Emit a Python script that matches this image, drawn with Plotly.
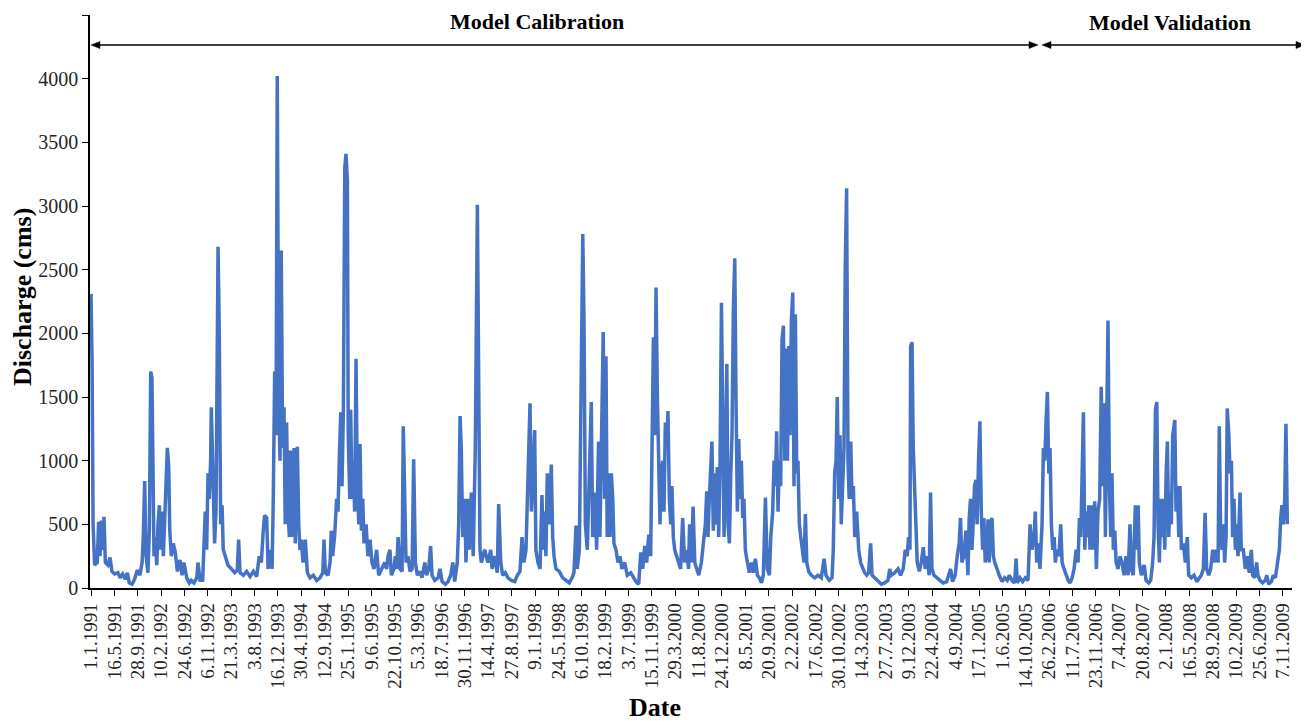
import pandas as pd
import plotly.graph_objects as go

START = pd.Timestamp("1991-01-01")

# ---- data: day offset from 1.1.1991 and discharge (cms) ----
days_1991 = [0, 6, 12, 21, 36, 44, 52, 60, 68, 75, 83, 98, 110, 121, 137, 156, 168, 183, 198, 210, 221, 237, 252, 267, 283, 295, 302, 310, 318, 329, 337, 345, 352, 358]
q_1991 = [2310, 1800, 500, 180, 200, 520, 250, 530, 300, 560, 200, 180, 240, 130, 110, 120, 80, 110, 70, 120, 40, 30, 70, 140, 100, 200, 400, 840, 250, 120, 450, 1700, 1650, 500]

days_1992 = [364, 371, 380, 387, 395, 403, 410, 418, 426, 433, 441, 449, 455, 464, 475, 487, 499, 514, 526, 537, 553, 568, 579, 595, 611, 618, 630, 645, 653, 660, 668, 676, 683, 691, 695, 707, 714, 722]
q_1992 = [250, 400, 180, 500, 650, 300, 600, 250, 550, 900, 1100, 950, 450, 250, 350, 280, 130, 220, 100, 200, 80, 40, 60, 40, 80, 200, 60, 60, 450, 600, 300, 900, 700, 1000, 1420, 700, 350, 600]

days_1993 = [734, 741, 749, 757, 764, 776, 791, 811, 830, 845, 853, 861, 880, 899, 919, 938, 957, 972, 984, 995, 1003, 1015, 1023, 1034, 1046, 1053, 1061, 1069, 1076, 1084, 1092]
q_1993 = [2680, 2000, 500, 650, 300, 250, 180, 150, 120, 140, 380, 120, 100, 130, 90, 130, 90, 250, 200, 450, 570, 550, 150, 300, 150, 700, 1700, 1200, 4020, 1500, 1000]

days_1994 = [1099, 1107, 1115, 1122, 1130, 1138, 1146, 1153, 1161, 1173, 1180, 1192, 1200, 1207, 1215, 1225, 1238, 1250, 1265, 1284, 1304, 1323, 1339, 1346, 1354, 1369, 1381, 1388, 1396, 1408, 1419, 1427, 1434, 1443, 1450, 1458]
q_1994 = [2650, 1100, 1420, 500, 1300, 600, 400, 1080, 400, 1100, 350, 1110, 500, 300, 380, 200, 380, 120, 80, 100, 60, 80, 120, 380, 120, 100, 200, 450, 250, 420, 700, 600, 1000, 1380, 800, 1400]

days_1995 = [1466, 1473, 1481, 1486, 1495, 1500, 1508, 1515, 1523, 1531, 1538, 1547, 1554, 1562, 1570, 1577, 1589, 1600, 1612, 1623, 1635, 1650, 1662, 1681, 1697, 1708, 1716, 1727, 1735, 1750, 1758, 1766, 1774, 1785, 1797, 1804, 1812, 1820]
q_1995 = [3300, 3410, 3200, 1200, 700, 1400, 700, 1000, 600, 1800, 800, 500, 1130, 450, 700, 350, 500, 250, 380, 200, 150, 300, 100, 150, 200, 150, 250, 300, 100, 150, 250, 150, 400, 150, 130, 1270, 600, 200]

days_1996 = [1831, 1843, 1855, 1864, 1874, 1885, 1901, 1912, 1928, 1939, 1951, 1962, 1970, 1986, 2005, 2016, 2028, 2047, 2062, 2078, 2090, 2101, 2116, 2124, 2132, 2139, 2147, 2159, 2166, 2178, 2185]
q_1996 = [250, 130, 150, 1010, 200, 100, 130, 80, 200, 100, 150, 330, 100, 60, 80, 150, 50, 30, 50, 100, 200, 50, 200, 500, 1350, 1100, 400, 700, 200, 700, 300]

days_1997 = [2197, 2208, 2220, 2232, 2240, 2247, 2255, 2274, 2293, 2309, 2317, 2332, 2347, 2355, 2367, 2378, 2393, 2409, 2428, 2448, 2463, 2478, 2490, 2501, 2513, 2521, 2529, 2536, 2544, 2555]
q_1997 = [750, 250, 1100, 3010, 1000, 300, 200, 300, 200, 300, 150, 250, 120, 660, 200, 100, 120, 80, 60, 50, 100, 130, 400, 200, 300, 700, 1330, 1450, 600, 1000]

days_1998 = [2563, 2570, 2582, 2594, 2605, 2613, 2621, 2628, 2636, 2648, 2659, 2667, 2675, 2686, 2705, 2725, 2744, 2763, 2779, 2790, 2802, 2809, 2821, 2833, 2841, 2848, 2856, 2867, 2879, 2890, 2898, 2910, 2921]
q_1998 = [1240, 300, 200, 150, 730, 300, 600, 250, 900, 500, 970, 400, 250, 150, 130, 80, 60, 40, 80, 120, 490, 150, 300, 2000, 2780, 2100, 500, 300, 900, 1460, 400, 750, 300]

days_1999 = [2932, 2940, 2952, 2959, 2967, 2975, 2982, 2991, 2998, 3006, 3014, 3021, 3033, 3044, 3056, 3067, 3083, 3098, 3118, 3133, 3148, 3164, 3176, 3187, 3199, 3210, 3222, 3233, 3241, 3249, 3257, 3264, 3272, 3280]
q_1999 = [1150, 400, 1500, 2010, 700, 1820, 400, 900, 400, 900, 700, 350, 300, 200, 250, 150, 200, 100, 120, 80, 50, 30, 280, 150, 330, 200, 420, 250, 1000, 1970, 1200, 2360, 1500, 700]

days_2000 = [3287, 3295, 3303, 3310, 3318, 3326, 3333, 3341, 3349, 3356, 3364, 3372, 3383, 3395, 3406, 3418, 3429, 3441, 3452, 3458, 3468, 3478, 3488, 3499, 3511, 3526, 3537, 3549, 3557, 3564, 3572, 3580, 3587, 3595, 3603, 3611, 3618, 3626, 3634, 3642, 3650]
q_2000 = [500, 900, 1000, 600, 1300, 1100, 1390, 700, 500, 800, 400, 300, 250, 200, 150, 550, 200, 300, 150, 500, 200, 640, 200, 150, 100, 200, 320, 500, 760, 400, 700, 1000, 1150, 450, 900, 500, 950, 400, 1000, 2240, 1200]

days_2001 = [3657, 3665, 3673, 3680, 3688, 3696, 3703, 3711, 3719, 3726, 3734, 3742, 3749, 3757, 3765, 3772, 3780, 3792, 3803, 3815, 3826, 3838, 3850, 3861, 3873, 3884, 3896, 3907, 3919, 3927, 3938, 3946, 3953, 3961, 3969, 3976, 3984, 3992, 4000, 4008, 4015]
q_2001 = [400, 1000, 1760, 500, 350, 900, 1200, 2200, 2590, 1500, 600, 1170, 700, 1000, 550, 700, 300, 200, 120, 200, 120, 230, 100, 80, 40, 100, 710, 150, 100, 400, 600, 1000, 800, 1230, 600, 1000, 800, 1950, 2060, 1000, 1880]

days_2002 = [4023, 4031, 4038, 4046, 4054, 4061, 4069, 4077, 4084, 4092, 4100, 4111, 4119, 4127, 4135, 4146, 4161, 4181, 4200, 4219, 4235, 4246, 4265, 4281, 4288, 4296, 4304, 4311, 4319, 4327, 4334, 4342, 4350, 4357, 4365, 4373, 4380]
q_2002 = [1000, 1900, 1200, 2100, 2320, 800, 2150, 900, 1000, 500, 400, 250, 200, 580, 200, 130, 100, 80, 100, 80, 230, 100, 60, 80, 300, 900, 1000, 1500, 700, 1200, 500, 800, 1100, 2500, 3140, 1000, 700]

days_2003 = [4389, 4396, 4404, 4412, 4423, 4435, 4446, 4458, 4469, 4481, 4492, 4504, 4512, 4527, 4547, 4566, 4585, 4604, 4614, 4623, 4643, 4662, 4677, 4692, 4704, 4715, 4723, 4731, 4735, 4743]
q_2003 = [1150, 700, 800, 400, 600, 300, 200, 150, 120, 100, 120, 350, 100, 80, 50, 30, 40, 60, 150, 100, 120, 150, 100, 150, 300, 250, 400, 300, 1900, 1930]

days_2004 = [4750, 4758, 4766, 4773, 4785, 4796, 4808, 4819, 4831, 4842, 4850, 4858, 4870, 4885, 4904, 4923, 4943, 4954, 4966, 4977, 4992, 5004, 5015, 5023, 5031, 5043, 5054, 5066, 5073, 5081, 5089, 5096, 5104]
q_2004 = [1100, 800, 400, 200, 130, 200, 320, 150, 250, 100, 750, 150, 100, 80, 60, 40, 50, 100, 150, 50, 100, 250, 350, 550, 200, 250, 450, 100, 550, 700, 300, 500, 800]

days_2005 = [5112, 5119, 5127, 5135, 5143, 5151, 5158, 5166, 5174, 5182, 5189, 5197, 5205, 5213, 5221, 5232, 5247, 5263, 5278, 5293, 5305, 5320, 5336, 5344, 5351, 5367, 5382, 5397, 5413, 5425, 5436, 5448, 5455, 5463, 5471]
q_2005 = [850, 500, 1000, 1310, 600, 300, 550, 200, 300, 540, 200, 500, 550, 250, 200, 150, 100, 50, 80, 60, 100, 60, 40, 230, 40, 80, 50, 80, 60, 500, 300, 400, 600, 200, 350]

days_2006 = [5482, 5494, 5502, 5510, 5517, 5525, 5533, 5540, 5548, 5556, 5564, 5571, 5579, 5591, 5602, 5610, 5621, 5633, 5645, 5656, 5668, 5679, 5691, 5702, 5710, 5718, 5725, 5733, 5741, 5748, 5756, 5764, 5771, 5779, 5789, 5798, 5808, 5817, 5827, 5831, 5836]
q_2006 = [150, 500, 1100, 1000, 1300, 1540, 900, 1100, 500, 300, 400, 200, 300, 250, 500, 200, 150, 100, 60, 40, 80, 150, 300, 200, 550, 400, 1000, 1380, 300, 600, 400, 650, 300, 650, 300, 680, 150, 600, 700, 1200, 1580]

days_2007 = [5845, 5852, 5860, 5868, 5875, 5883, 5891, 5898, 5906, 5914, 5922, 5933, 5945, 5956, 5968, 5979, 5991, 6002, 6010, 6021, 6033, 6041, 6049, 6056, 6068, 6084, 6095, 6110, 6122, 6133, 6141, 6149, 6157, 6164, 6172, 6180, 6187, 6195, 6203]
q_2007 = [800, 1450, 400, 1400, 2100, 800, 400, 900, 300, 450, 200, 150, 250, 200, 100, 250, 100, 500, 150, 100, 650, 300, 650, 200, 100, 180, 60, 40, 60, 200, 400, 1400, 1460, 500, 200, 700, 400, 700, 300]

days_2008 = [6211, 6218, 6226, 6234, 6241, 6249, 6261, 6268, 6276, 6284, 6291, 6299, 6310, 6322, 6333, 6341, 6356, 6372, 6388, 6403, 6414, 6426, 6436, 6445, 6457, 6468, 6480, 6488, 6499, 6511, 6518, 6526, 6534, 6541, 6549, 6557, 6564, 6573]
q_2008 = [900, 1150, 400, 750, 500, 1200, 1320, 600, 800, 400, 800, 300, 350, 200, 400, 100, 80, 100, 50, 80, 100, 150, 590, 150, 100, 150, 300, 200, 300, 200, 1270, 400, 300, 500, 200, 400, 1410, 1200]

days_2009 = [6580, 6588, 6595, 6603, 6611, 6619, 6626, 6638, 6645, 6657, 6668, 6680, 6691, 6703, 6711, 6722, 6734, 6741, 6753, 6768, 6784, 6792, 6803, 6819, 6830, 6842, 6853, 6865, 6873, 6880, 6888, 6896, 6903, 6911]
q_2009 = [900, 1000, 400, 700, 300, 500, 250, 750, 300, 300, 150, 250, 120, 300, 100, 80, 200, 100, 60, 40, 60, 100, 30, 50, 100, 80, 200, 300, 550, 650, 500, 700, 1290, 500]

tick_labels = ["1.1.1991", "16.5.1991", "28.9.1991", "10.2.1992", "24.6.1992", "6.11.1992",
               "21.3.1993", "3.8.1993", "16.12.1993", "30.4.1994", "12.9.1994", "25.1.1995",
               "9.6.1995", "22.10.1995", "5.3.1996", "18.7.1996", "30.11.1996", "14.4.1997",
               "27.8.1997", "9.1.1998", "24.5.1998", "6.10.1998", "18.2.1999", "3.7.1999",
               "15.11.1999", "29.3.2000", "11.8.2000", "24.12.2000", "8.5.2001", "20.9.2001",
               "2.2.2002", "17.6.2002", "30.10.2002", "14.3.2003", "27.7.2003", "9.12.2003",
               "22.4.2004", "4.9.2004", "17.1.2005", "1.6.2005", "14.10.2005", "26.2.2006",
               "11.7.2006", "23.11.2006", "7.4.2007", "20.8.2007", "2.1.2008", "16.5.2008",
               "28.9.2008", "10.2.2009", "25.6.2009", "7.11.2009"]
y_ticks = [0, 500, 1000, 1500, 2000, 2500, 3000, 3500, 4000, 4500]
period_labels = ["Model Calibration", "Model Validation"]

# ---- assemble ----
all_days, all_q = [], []
for d, q in [(days_1991, q_1991), (days_1992, q_1992), (days_1993, q_1993), (days_1994, q_1994),
             (days_1995, q_1995), (days_1996, q_1996), (days_1997, q_1997), (days_1998, q_1998),
             (days_1999, q_1999), (days_2000, q_2000), (days_2001, q_2001), (days_2002, q_2002),
             (days_2003, q_2003), (days_2004, q_2004), (days_2005, q_2005), (days_2006, q_2006),
             (days_2007, q_2007), (days_2008, q_2008), (days_2009, q_2009)]:
    all_days += d
    all_q += q
df = pd.DataFrame({"day": all_days, "q": all_q}).sort_values("day")
df["date"] = START + pd.to_timedelta(df["day"], unit="D")


def parse_dmy(s):
    d, m, y = (int(p) for p in s.split("."))
    return pd.Timestamp(year=y, month=m, day=d)


tick_vals = [parse_dmy(s) for s in tick_labels]

BLUE = "#4472C4"
SERIF = "Liberation Serif, Times New Roman, serif"

fig = go.Figure()
fig.add_trace(go.Scatter(x=df["date"], y=df["q"], mode="lines",
                         line=dict(color=BLUE, width=3.5), hoverinfo="x+y"))

# target plot area in viewport pixels: x 90..1292, y 15..588
# (the page body has an 8 px default margin, compensated in the figure margins)
OFF = 8
W, H = 1309, 721
PX0, PX1, PY0, PY1 = 90, 1292, 15, 588
L, R = PX0 - OFF, W - (PX1 - OFF)
T, B = PY0 - OFF, H - (PY1 - OFF)
PW, PH = PX1 - PX0, PY1 - PY0


def px(x):
    return (x - PX0) / PW


def py(y):
    return (PY1 - y) / PH


x0 = START - pd.Timedelta(days=5.8)
x1 = START + pd.Timedelta(days=6938)

fig.update_layout(
    width=W, height=H,
    margin=dict(l=L, r=R, t=T, b=B),
    plot_bgcolor="white", paper_bgcolor="white",
    showlegend=False,
    xaxis=dict(type="date", range=[x0, x1], tickmode="array", tickvals=tick_vals,
               ticktext=tick_labels, tickangle=-90, ticks="outside", ticklen=6,
               tickcolor="black", tickwidth=1.3, showline=True, linecolor="black",
               linewidth=1.5, showgrid=False, zeroline=False, automargin=False,
               tickfont=dict(family=SERIF, size=19, color="#262626")),
    yaxis=dict(range=[0, 4500], tickmode="array", tickvals=y_ticks, ticks="outside",
               ticklen=6, tickcolor="black", tickwidth=1.3, showline=True,
               linecolor="black", linewidth=1.5, showgrid=False, zeroline=False,
               automargin=False,
               tickfont=dict(family=SERIF, size=20, color="#262626")),
)


def label(text, x, y, size, angle=0):
    fig.add_annotation(text=text, xref="paper", yref="paper", x=px(x), y=py(y),
                       xanchor="center", yanchor="middle", showarrow=False,
                       textangle=angle, font=dict(family=SERIF, size=size, color="black"))


# axis titles
label("<b>Discharge (cms)</b>", 22, 297, 26, angle=-90)
label("<b>Date</b>", 655, 707, 26)

# period labels and double-headed arrows
label("<b>%s</b>" % period_labels[0], 537, 21, 22)
label("<b>%s</b>" % period_labels[1], 1170, 23, 22)

ay = 45
for a, b in [(91, 1038), (1042, 1305)]:
    fig.add_shape(type="line", xref="paper", yref="paper", x0=px(a + 4), x1=px(b - 4),
                  y0=py(ay), y1=py(ay), line=dict(color="black", width=1.6))
    fig.add_shape(type="path", xref="paper", yref="paper",
                  path="M %f,%f L %f,%f L %f,%f Z" % (px(a), py(ay), px(a + 9), py(ay - 3.5), px(a + 9), py(ay + 3.5)),
                  fillcolor="black", line=dict(color="black", width=0.5))
    fig.add_shape(type="path", xref="paper", yref="paper",
                  path="M %f,%f L %f,%f L %f,%f Z" % (px(b), py(ay), px(b - 9), py(ay - 3.5), px(b - 9), py(ay + 3.5)),
                  fillcolor="black", line=dict(color="black", width=0.5))

fig.write_html("out.html")
